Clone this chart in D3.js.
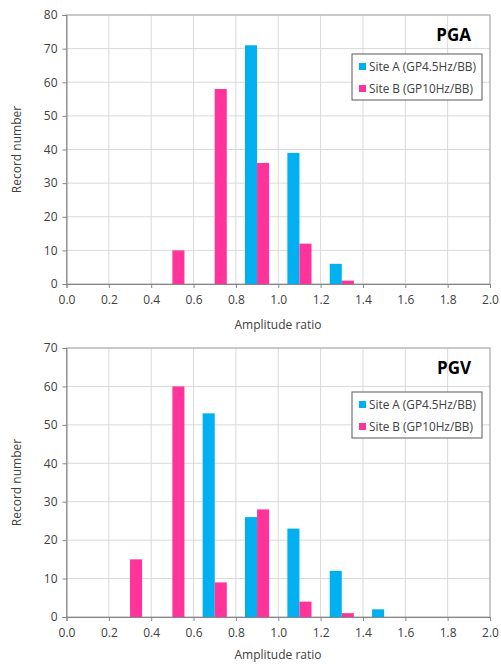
<!DOCTYPE html>
<html>
<head>
<meta charset="utf-8">
<script src="https://cdn.jsdelivr.net/npm/d3@7"></script>
<style>
body { margin:0; background:#fff; }
svg text { font-family: "Open Sans", "Noto Sans", sans-serif; fill:#404040; }
</style>
</head>
<body>
<div id="figure"></div>
<script>
// bin centres of amplitude ratio
var bins = [0.1, 0.3, 0.5, 0.7, 0.9, 1.1, 1.3, 1.5, 1.7, 1.9];
var xTicks = [0.0, 0.2, 0.4, 0.6, 0.8, 1.0, 1.2, 1.4, 1.6, 1.8, 2.0];
var seriesNames = ["Site A (GP4.5Hz/BB)", "Site B (GP10Hz/BB)"];
var colors = ["#00b0f0", "#ff3399"];

var pgaSiteA = [0, 0, 0, 0, 71, 39, 6, 0, 0, 0];
var pgaSiteB = [0, 0, 10, 58, 36, 12, 1, 0, 0, 0];
var pgvSiteA = [0, 0, 0, 53, 26, 23, 12, 2, 0, 0];
var pgvSiteB = [0, 15, 60, 9, 28, 4, 1, 0, 0, 0];

var W = 501, H = 664;
var svg = d3.select("#figure").append("svg").attr("width", W).attr("height", H);

function panel(top, bottom, yMax, title, siteA, siteB, legTop, xTitleOff) {
	var x = d3.scaleLinear().domain([0, 2]).range([66.5, 490]);
	var y = d3.scaleLinear().domain([0, yMax]).range([bottom, top]);
	var g = svg.append("g");
	var yTicks = d3.range(0, yMax + 1, 10);

	// grid
	g.selectAll("line.vg").data(xTicks.slice(1)).enter().append("line")
		.attr("x1", function(d) { return x(d); }).attr("x2", function(d) { return x(d); })
		.attr("y1", top).attr("y2", bottom)
		.attr("stroke", "#d9d9d9").attr("stroke-width", 1);
	g.selectAll("line.hg").data(yTicks.slice(1)).enter().append("line")
		.attr("x1", x(0)).attr("x2", x(2))
		.attr("y1", function(d) { return y(d); }).attr("y2", function(d) { return y(d); })
		.attr("stroke", "#d9d9d9").attr("stroke-width", 1);
	// plot frame
	g.append("rect").attr("x", x(0)).attr("y", top).attr("width", x(2) - x(0)).attr("height", bottom - top)
		.attr("fill", "none").attr("stroke", "#a6a6a6");

	// bars: site A left of bin centre, site B right
	var bw = 0.057;
	var rows = [];
	bins.forEach(function(b, i) {
		rows.push({c: b, v: siteA[i], s: 0});
		rows.push({c: b, v: siteB[i], s: 1});
	});
	g.selectAll("rect.bar").data(rows.filter(function(d) { return d.v > 0; })).enter().append("rect")
		.attr("x", function(d) { return d.s == 0 ? x(d.c - bw) : x(d.c); })
		.attr("width", x(bw) - x(0))
		.attr("y", function(d) { return y(d.v); })
		.attr("height", function(d) { return y(0) - y(d.v); })
		.attr("fill", function(d) { return colors[d.s]; });

	// axes
	var xa = g.append("g").attr("transform", "translate(0," + bottom + ")")
		.call(d3.axisBottom(x).tickValues(xTicks).tickFormat(d3.format(".1f")).tickSize(4));
	var ya = g.append("g").attr("transform", "translate(" + x(0) + ",0)")
		.call(d3.axisLeft(y).tickValues(yTicks).tickSize(4));
	[xa, ya].forEach(function(a) {
		a.select(".domain").attr("stroke", "#868686");
		a.selectAll(".tick line").attr("stroke", "#868686");
		a.selectAll("text").attr("font-size", "12px").attr("fill", "#404040")
			.attr("font-family", "'Open Sans', sans-serif");
	});
	xa.selectAll("text").attr("dy", "1.05em");
	ya.selectAll("text").attr("dx", "-2px");

	g.append("text").attr("x", 278).attr("y", bottom + xTitleOff).attr("text-anchor", "middle")
		.attr("font-size", "12px").text("Amplitude ratio");
	g.append("text").attr("transform", "translate(21," + ((top + bottom) / 2) + ")rotate(-90)")
		.attr("text-anchor", "middle").attr("font-size", "12px").text("Record number");

	// title
	g.append("text").attr("x", 471).attr("y", top + 26).attr("text-anchor", "end")
		.attr("font-size", "17px").attr("font-weight", "bold").style("fill", "#000").text(title);

	// legend
	var lg = g.append("g").attr("transform", "translate(352," + legTop + ")");
	lg.append("rect").attr("width", 130).attr("height", 46).attr("fill", "#fff").attr("stroke", "#595959");
	lg.selectAll("rect.sw").data(seriesNames).enter().append("rect")
		.attr("x", 7).attr("y", function(d, i) { return 9 + i * 22; })
		.attr("width", 7).attr("height", 7)
		.attr("fill", function(d, i) { return colors[i]; });
	lg.selectAll("text.lt").data(seriesNames).enter().append("text")
		.attr("x", 17).attr("y", function(d, i) { return 17 + i * 22; })
		.attr("font-size", "11.8px").text(function(d) { return d; });
}

panel(15, 284, 80, "PGA", pgaSiteA, pgaSiteB, 54, 45);
panel(348, 617, 70, "PGV", pgvSiteA, pgvSiteB, 392, 42);
</script>
</body>
</html>
